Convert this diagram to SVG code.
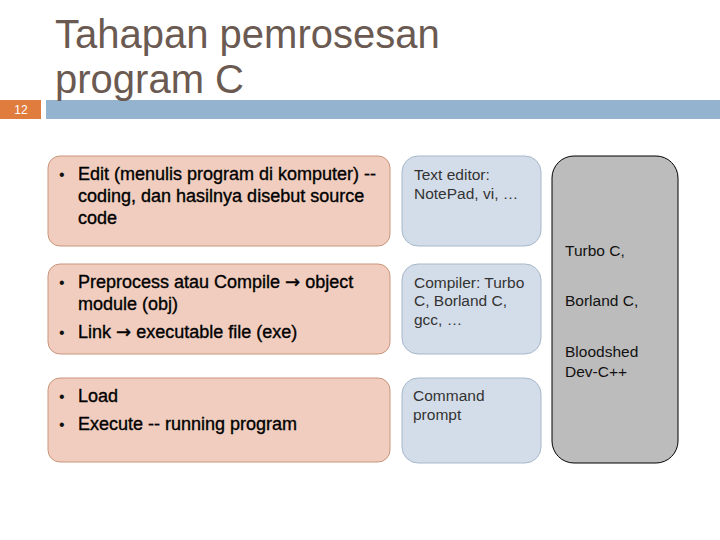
<svg xmlns="http://www.w3.org/2000/svg" width="720" height="540" viewBox="0 0 720 540">
<style>
text{font-family:"Liberation Sans",Arial,sans-serif}
.title{font-size:40px;fill:#6b5a52}
.pink{fill:#f0cdbf;stroke:#c9957c;stroke-width:1}
.blue{fill:#d3dde9;stroke:#a7b7c9;stroke-width:1}
.gray{fill:#bcbcbc;stroke:#000;stroke-width:1}
.pt{font-size:18px;fill:#000;stroke:#000;stroke-width:0.35}
.bul{font-size:16px;fill:#111}
.arr{font-family:"DejaVu Sans",sans-serif}
.bt{font-size:15.5px;fill:#333}
.gt{font-size:15.5px;fill:#111}
</style>
<rect width="720" height="540" fill="#fff"/>
<g id="header">
<rect x="0" y="100" width="41" height="19" fill="#e07c3e"/>
<rect x="46" y="100" width="674" height="19" fill="#93b3cf"/>
<text x="21" y="114" font-size="12" fill="#fff" text-anchor="middle" font-family="Liberation Sans">12</text>
<text class="title" x="55" y="48">Tahapan pemrosesan</text>
<text class="title" x="55" y="93">program C</text>
</g>
<g id="edit">
<rect class="pink" x="48" y="156" width="342" height="90" rx="12"/>
<text class="bul" x="59" y="180">•</text>
<text class="pt" x="78" y="180">Edit (menulis program di komputer) --</text>
<text class="pt" x="78" y="202">coding, dan hasilnya disebut source</text>
<text class="pt" x="78" y="224">code</text>
</g>
<g id="compile">
<rect class="pink" x="48" y="264" width="342" height="90" rx="12"/>
<text class="bul" x="59" y="288">•</text>
<text class="pt" x="78" y="288">Preprocess atau Compile <tspan class="arr">→</tspan> object</text>
<text class="pt" x="78" y="310">module (obj)</text>
<text class="bul" x="59" y="338">•</text>
<text class="pt" x="78" y="338">Link <tspan class="arr">→</tspan> executable file (exe)</text>
</g>
<g id="load">
<rect class="pink" x="48" y="378" width="342" height="84" rx="12"/>
<text class="bul" x="59" y="402">•</text>
<text class="pt" x="78" y="402">Load</text>
<text class="bul" x="59" y="430">•</text>
<text class="pt" x="78" y="430">Execute -- running program</text>
</g>
<g id="texteditor">
<rect class="blue" x="402" y="156" width="139" height="90" rx="16"/>
<text class="bt" x="414" y="180">Text editor:</text>
<text class="bt" x="414" y="199">NotePad, vi, …</text>
</g>
<g id="compiler">
<rect class="blue" x="402" y="264" width="139" height="90" rx="16"/>
<text class="bt" x="414" y="288">Compiler: Turbo</text>
<text class="bt" x="414" y="306">C, Borland C,</text>
<text class="bt" x="414" y="325">gcc, …</text>
</g>
<g id="cmd">
<rect class="blue" x="402" y="378" width="139" height="85" rx="16"/>
<text class="bt" x="413" y="401">Command</text>
<text class="bt" x="413" y="420">prompt</text>
</g>
<g id="ide">
<rect class="gray" x="552" y="156" width="126" height="307" rx="22"/>
<text class="gt" x="565" y="256">Turbo C,</text>
<text class="gt" x="565" y="306">Borland C,</text>
<text class="gt" x="565" y="357">Bloodshed</text>
<text class="gt" x="565" y="377">Dev-C++</text>
</g>
<g id="connectors"></g>
</svg>
